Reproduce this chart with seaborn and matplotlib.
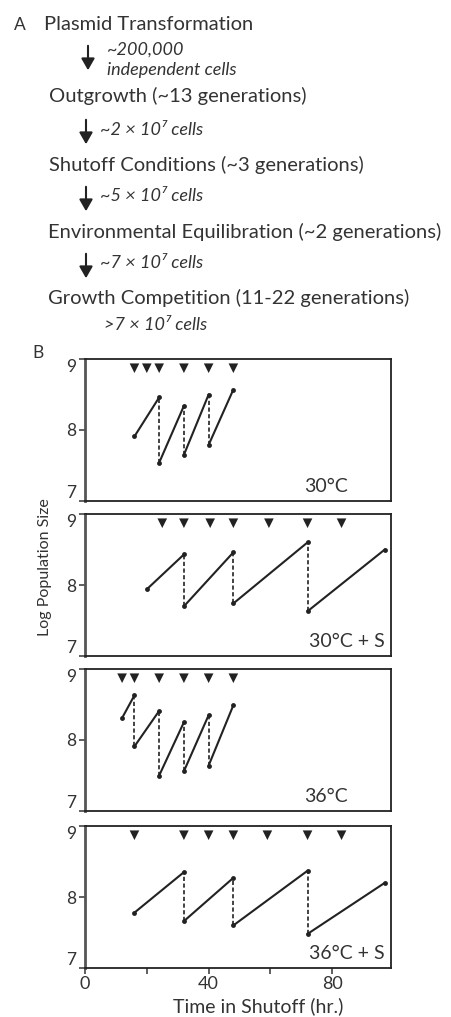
import matplotlib
matplotlib.use("Agg")
import matplotlib.pyplot as plt
import seaborn as sns
import pandas as pd
import numpy as np

sns.set_theme(style="ticks")
plt.rcParams['font.family'] = ['Lato', 'DejaVu Sans']

# ---------------- data ----------------
panel_labels = ["30°C", "30°C + S", "36°C", "36°C + S"]

# growth segments: start time, start log size, end time, end log size
p1_t0 = [16, 24, 32, 40]
p1_y0 = [7.91, 7.54, 7.65, 7.79]
p1_t1 = [24, 32, 40, 48]
p1_y1 = [8.46, 8.34, 8.50, 8.57]

p2_t0 = [20, 32, 48, 72]
p2_y0 = [7.94, 7.70, 7.74, 7.63]
p2_t1 = [32, 48, 72, 97]
p2_y1 = [8.43, 8.46, 8.60, 8.50]

p3_t0 = [12, 16, 24, 32, 40]
p3_y0 = [8.31, 7.91, 7.50, 7.56, 7.64]
p3_t1 = [16, 24, 32, 40, 48]
p3_y1 = [8.63, 8.41, 8.25, 8.35, 8.49]

p4_t0 = [16, 32, 48, 72]
p4_y0 = [7.78, 7.66, 7.60, 7.48]
p4_t1 = [32, 48, 72, 97]
p4_y1 = [8.35, 8.27, 8.37, 8.20]

# sampling times (arrowheads)
p1_marks = [16, 20, 24, 32, 40, 48]
p2_marks = [25, 32, 40.5, 48, 59.5, 72, 83]
p3_marks = [12, 16, 24, 32, 40, 48]
p4_marks = [16, 32, 40, 48, 59, 72, 83]
mark_level = 8.87

x_ticks = [0, 20, 40, 60, 80]
x_ticklabels = ["0", "", "40", "", "80"]
y_ticks = [7, 8, 9]

panels = [
    (p1_t0, p1_y0, p1_t1, p1_y1, p1_marks),
    (p2_t0, p2_y0, p2_t1, p2_y1, p2_marks),
    (p3_t0, p3_y0, p3_t1, p3_y1, p3_marks),
    (p4_t0, p4_y0, p4_t1, p4_y1, p4_marks),
]

# ---------------- figure ----------------
W, H = 452, 1017
fig = plt.figure(figsize=(W / 100, H / 100), dpi=100)
fig.patch.set_facecolor("white")

def fx(px):
    return px / W

def fy(py):
    return 1 - py / H

txt_col = "#333333"
line_col = "#222222"

# ---- Panel A: flow chart ----
main_fs = 14.5
small_fs = 13
fig.text(fx(20), fy(25), "A", fontsize=12.5, color=txt_col, va="center", ha="center")
steps = [
    ("Plasmid Transformation", 44, 25),
    ("Outgrowth (~13 generations)", 49, 96),
    ("Shutoff Conditions (~3 generations)", 49, 165),
    ("Environmental Equilibration (~2 generations)", 48, 232),
    ("Growth Competition (11-22 generations)", 48, 298),
]
for s, x, y in steps:
    fig.text(fx(x), fy(y), s, fontsize=main_fs, color=txt_col, va="center", ha="left")

arrows = [(88, 43, 73), (86, 117, 147), (86, 184, 214), (86, 251, 281)]
for x, y0, y1 in arrows:
    fig.add_artist(matplotlib.patches.FancyArrowPatch(
        (fx(x), fy(y0)), (fx(x), fy(y1)), transform=fig.transFigure,
        arrowstyle="-|>,head_length=7,head_width=4", color="#222222",
        lw=1.5, mutation_scale=1))

notes = [
    ("~200,000", 107, 50),
    ("independent cells", 107, 70),
    ("~2 × 10\u2077 cells", 100, 130),
    ("~5 × 10\u2077 cells", 100, 196),
    ("~7 × 10\u2077 cells", 100, 263),
    (">7 × 10\u2077 cells", 104, 325),
]
for s, x, y in notes:
    fig.text(fx(x), fy(y), s, fontsize=small_fs, style="italic",
             color=txt_col, va="center", ha="left")

# ---- Panel B: growth curves ----
fig.text(fx(38), fy(353), "B", fontsize=12.5, color=txt_col, va="center", ha="center")
fig.text(fx(45), fy(567), "Log Population Size", fontsize=11.5, color=txt_col,
         rotation=90, va="center", ha="center")
fig.text(fx(258), fy(1006), "Time in Shutoff (hr.)", fontsize=14, color=txt_col,
         va="center", ha="center")

tops = [359, 514, 669, 826]
ph = 142
left, right = 85, 391

for i, (t0, y0, t1, y1, marks) in enumerate(panels):
    ax = fig.add_axes([fx(left), fy(tops[i] + ph), fx(right - left), ph / H])
    rows = []
    for k in range(len(t0)):
        rows.append({"seg": k, "t": t0[k], "y": y0[k]})
        rows.append({"seg": k, "t": t1[k], "y": y1[k]})
    df = pd.DataFrame(rows)
    sns.lineplot(data=df, x="t", y="y", units="seg", estimator=None, ax=ax,
                 color=line_col, lw=1.5, marker="o", markersize=3.5,
                 markeredgewidth=0, legend=False)
    # dilution steps (end of one segment to start of next)
    drops = []
    for k in range(len(t0) - 1):
        drops.append({"d": k, "t": t1[k], "y": y1[k]})
        drops.append({"d": k, "t": t0[k + 1], "y": y0[k + 1]})
    if drops:
        ddf = pd.DataFrame(drops)
        sns.lineplot(data=ddf, x="t", y="y", units="d", estimator=None, ax=ax,
                     color=line_col, lw=1.2, linestyle=(0, (2.5, 1.5)), legend=False)
    mdf = pd.DataFrame({"t": marks, "y": [mark_level] * len(marks)})
    sns.scatterplot(data=mdf, x="t", y="y", ax=ax, marker="v", s=48,
                    color="#222222", edgecolor="none", legend=False)

    ax.set_xlim(0, 99)
    ax.set_ylim(7, 9)
    ax.set_yticks(y_ticks)
    ax.set_yticklabels([str(v) for v in y_ticks], fontsize=12.5, color=txt_col)
    labs = ax.get_yticklabels()
    labs[0].set_verticalalignment("bottom")
    labs[-1].set_verticalalignment("top")
    ax.set_xlabel("")
    ax.set_ylabel("")
    for sp in ax.spines.values():
        sp.set_visible(True)
        sp.set_color("#222222")
        sp.set_linewidth(1.3)
    ax.spines["left"].set_color("#555555")
    ax.spines["left"].set_linewidth(2.0)
    ax.tick_params(axis="y", direction="out", length=4, width=1.2, pad=2,
                   color="#444444")
    if i == 3:
        ax.set_xticks(x_ticks)
        ax.set_xticklabels(x_ticklabels, fontsize=13, color=txt_col)
        ax.tick_params(axis="x", direction="out", length=4, width=1.2, pad=2,
                       color="#444444")
    else:
        ax.set_xticks([])
    ax.text(0.98 if "S" in panel_labels[i] else 0.86, 0.1, panel_labels[i],
            transform=ax.transAxes, ha="right", va="center", fontsize=14,
            color=txt_col)

fig.savefig("out.png", dpi=100, facecolor="white")
